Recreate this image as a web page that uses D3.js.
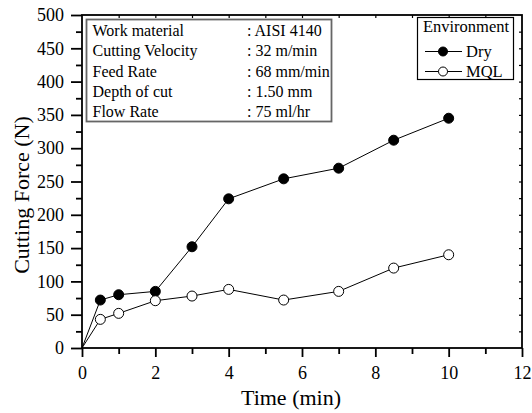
<!DOCTYPE html>
<html>
<head>
<script src="https://d3js.org/d3.v7.min.js"></script>
<style>
body { margin:0; background:#fff; }
text { font-family: "Liberation Serif", "Times New Roman", serif; fill:#000; }
</style>
</head>
<body>
<div id="chart"></div>
<script>
// time (min) for each measurement
var time = [0, 0.5, 1, 2, 3, 4, 5.5, 7, 8.5, 10];
// cutting force (N)
var dry = [0, 72, 80, 85, 152, 224, 254, 270, 312, 345];
var mql = [0, 43, 52, 71, 78, 88, 72, 85, 120, 140];
var xTicks = [0, 2, 4, 6, 8, 10, 12];
var yTicks = [0, 50, 100, 150, 200, 250, 300, 350, 400, 450, 500];
var infoLabels = ["Work material", "Cutting Velocity", "Feed Rate", "Depth of cut", "Flow Rate"];
var infoValues = [": AISI 4140", ": 32 m/min", ": 68 mm/min", ": 1.50 mm", ": 75 ml/hr"];
var seriesNames = ["Dry", "MQL"];

var width = 532, height = 413;
var margin = {left:82, right:10, top:15, bottom:65};
var svg = d3.select("#chart").append("svg")
	.attr("width", width).attr("height", height);

var x = d3.scaleLinear().domain([0, 12]).range([margin.left, width - margin.right]);
var y = d3.scaleLinear().domain([0, 500]).range([height - margin.bottom, margin.top]);

//frame
svg.append("rect")
	.attr("x", x(0)).attr("y", y(500))
	.attr("width", x(12) - x(0)).attr("height", y(0) - y(500))
	.attr("fill", "none").attr("stroke", "#000").attr("stroke-width", 1.8);

//minor tick arrays
var xMinor = d3.range(1, 12, 2);
var yMinor = d3.range(25, 500, 50);

function noLine(g){ g.select(".domain").remove(); }
function styleTicks(g){
	g.selectAll("line").attr("stroke-width", 1.8);
	g.selectAll("text").style("font-size", "18px").style("font-family", "Liberation Serif");
}

//bottom axis
svg.append("g").attr("transform", "translate(0," + y(0) + ")")
	.call(d3.axisBottom(x).tickValues(xTicks).tickSize(9).tickPadding(9).tickFormat(d3.format("d")))
	.call(noLine)
	.call(styleTicks);
svg.append("g").attr("transform", "translate(0," + y(0) + ")")
	.call(d3.axisBottom(x).tickValues(xMinor).tickSize(6).tickFormat(""))
	.call(noLine)
	.call(styleTicks);

//left axis
svg.append("g").attr("transform", "translate(" + x(0) + ",0)")
	.call(d3.axisLeft(y).tickValues(yTicks).tickSize(11).tickPadding(7))
	.call(noLine)
	.call(styleTicks);
svg.append("g").attr("transform", "translate(" + x(0) + ",0)")
	.call(d3.axisLeft(y).tickValues(yMinor).tickSize(6).tickFormat(""))
	.call(noLine)
	.call(styleTicks);

//top and right ticks pointing inward
svg.append("g").attr("transform", "translate(0," + y(500) + ")")
	.call(d3.axisBottom(x).tickValues(d3.range(1, 12)).tickSize(3).tickFormat(""))
	.call(noLine)
	.selectAll("line").attr("stroke-width", 1.2);
svg.append("g").attr("transform", "translate(" + x(12) + ",0)")
	.call(d3.axisLeft(y).tickValues(d3.range(25, 500, 25)).tickSize(3).tickFormat(""))
	.call(noLine)
	.selectAll("line").attr("stroke-width", 1.2);

//axis titles
svg.append("text")
	.attr("x", 291).attr("y", 405)
	.attr("text-anchor", "middle").style("font-size", "22px")
	.text("Time (min)");
svg.append("text")
	.attr("transform", "translate(29,195) rotate(-90)")
	.attr("text-anchor", "middle").style("font-size", "22px")
	.text("Cutting Force (N)");

//series
var line = d3.line()
	.x(function(d){ return x(d[0]); })
	.y(function(d){ return y(d[1]); });
var series = [
	{name: seriesNames[0], values: dry, fill: "#000"},
	{name: seriesNames[1], values: mql, fill: "#fff"}
];
series.forEach(function(s){
	var pts = time.map(function(t, i){ return [t, s.values[i]]; });
	svg.append("path")
		.datum(pts)
		.attr("d", line)
		.attr("fill", "none").attr("stroke", "#000").attr("stroke-width", 1);
	svg.append("g").selectAll("circle")
		.data(pts.filter(function(d){ return d[0] > 0; }))
		.enter().append("circle")
		.attr("cx", function(d){ return x(d[0]); })
		.attr("cy", function(d){ return y(d[1]); })
		.attr("r", 5)
		.attr("fill", s.fill).attr("stroke", "#000").attr("stroke-width", 1);
});

//info box
svg.append("rect")
	.attr("x", 86.5).attr("y", 19.5).attr("width", 245).attr("height", 102)
	.attr("fill", "#fff").attr("stroke", "#666").attr("stroke-width", 1.8);
infoLabels.forEach(function(l, i){
	svg.append("text").attr("x", 92.5).attr("y", 36 + i * 20.3)
		.style("font-size", "16px").text(l);
	svg.append("text").attr("x", 247).attr("y", 36 + i * 20.3)
		.style("font-size", "16px").text(infoValues[i]);
});

//legend
svg.append("rect")
	.attr("x", 417.5).attr("y", 17.5).attr("width", 96).attr("height", 62)
	.attr("fill", "#fff").attr("stroke", "#000").attr("stroke-width", 1.2);
svg.append("text").attr("x", 466).attr("y", 32)
	.attr("text-anchor", "middle").style("font-size", "16.5px").text("Environment");
series.forEach(function(s, i){
	var ly = 51.5 + i * 20;
	svg.append("line").attr("x1", 425).attr("x2", 462).attr("y1", ly).attr("y2", ly)
		.attr("stroke", "#000").attr("stroke-width", 1);
	svg.append("circle").attr("cx", 443).attr("cy", ly).attr("r", 4.5)
		.attr("fill", s.fill).attr("stroke", "#000");
	svg.append("text").attr("x", 466).attr("y", ly + 5.5)
		.style("font-size", "16.5px").text(s.name);
});
</script>
</body>
</html>
